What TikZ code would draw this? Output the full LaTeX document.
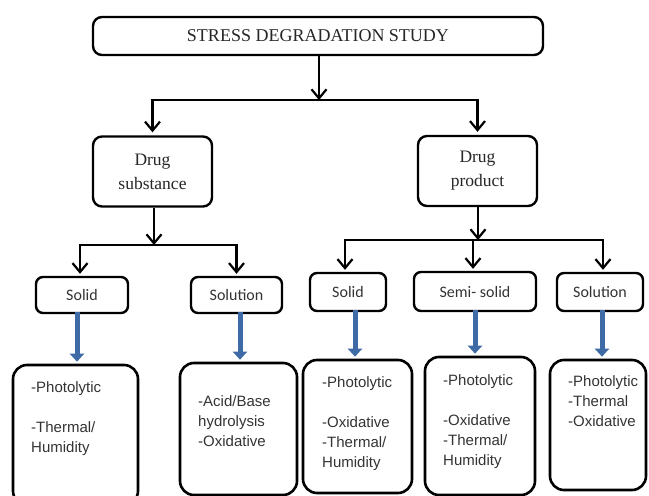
\documentclass[tikz,border=0pt]{standalone}
\usepackage{fontspec}
\setmainfont{Liberation Serif}
\newfontfamily\calib{Carlito}
\newfontfamily\arialf{Liberation Sans}
\usetikzlibrary{arrows.meta}
\definecolor{blueA}{RGB}{62,106,166}
\begin{document}
\begin{tikzpicture}[x=1pt,y=-1pt,
  box/.style={draw=black,line width=2.4pt,rounded corners=9pt,inner sep=0pt,align=center},
  serifbox/.style={box,font=\fontsize{17.5}{24}\selectfont,text=black!85},
  sansbox/.style={box,rounded corners=7pt,font=\calib\fontsize{16}{19}\selectfont,text=black!80},
  bigbox/.style={draw=black,line width=2.6pt,rounded corners=14pt,inner sep=0pt},
  txt/.style={font=\arialf\fontsize{15}{20}\selectfont,align=left,inner sep=0pt,anchor=north west,text=black!80},
  arr/.style={line width=2.2pt,-{Straight Barb[length=9pt,width=15pt]}},
  barr/.style={draw=blueA,line width=5pt,-{Triangle[length=8pt,width=14pt]}}]
\useasboundingbox (0,0) rectangle (649,496);

% top
\node[box,minimum width=450pt,minimum height=38pt,font=\fontsize{18}{22}\selectfont,text=black!85] (top) at (318,36) {STRESS DEGRADATION STUDY};

\node[serifbox,minimum width=119pt,minimum height=70pt] (ds) at (152.5,171.5) {Drug\\substance};
\node[serifbox,minimum width=119pt,minimum height=70pt] (dp) at (477.5,171) {Drug\\product};

\node[sansbox,minimum width=92pt,minimum height=36pt] (s1) at (82,295) {Solid};
\node[sansbox,minimum width=91pt,minimum height=36pt] (sol1) at (236.5,295) {Solution};
\node[sansbox,minimum width=76pt,minimum height=38pt] (s2) at (348,292) {Solid};
\node[sansbox,minimum width=122pt,minimum height=39pt] (semi) at (475,291.5) {Semi- solid};
\node[sansbox,minimum width=86pt,minimum height=38pt] (sol2) at (600,292) {Solution};

\node[bigbox,minimum width=125pt,minimum height=140pt] (b1) at (75.5,435) {};
\node[bigbox,minimum width=117pt,minimum height=132pt] (b2) at (238.5,429) {};
\node[bigbox,minimum width=109pt,minimum height=133pt] (b3) at (357.5,426.5) {};
\node[bigbox,minimum width=110pt,minimum height=138pt] (b4) at (480,426) {};
\node[bigbox,minimum width=96pt,minimum height=130pt] (b5) at (598,425) {};

\node[txt] (t1) at (31,381) {-Photolytic\\[20pt]-Thermal/\\Humidity};
\node[txt] (t2) at (198,395) {-Acid/Base\\hydrolysis\\-Oxidative};
\node[txt] (t3) at (322,376) {-Photolytic\\[20pt]-Oxidative\\-Thermal/\\Humidity};
\node[txt] (t4) at (443,374) {-Photolytic\\[20pt]-Oxidative\\-Thermal/\\Humidity};
\node[txt] (t5) at (568,375) {-Photolytic\\-Thermal\\-Oxidative};

% junctions
\coordinate (j0) at (319,100);
\coordinate (j1) at (154,245);
\coordinate (j2) at (478,240);

\draw[arr] (top.south -| j0) -- (j0);
\draw[arr,shorten >=3pt] (j0) -| (ds.north);
\draw[arr,shorten >=3pt] (j0) -| (dp.north);

\draw[arr] (ds.south -| j1) -- (j1);
\draw[arr,shorten >=2pt] (j1) -| ([xshift=-2pt]s1.north);
\draw[arr,shorten >=2pt] (j1) -| (sol1.north);

\draw[arr] (dp.south -| j2) -- (j2);
\draw[arr,shorten >=2pt] (j2) -| ([xshift=-3pt]s2.north);
\draw[arr,shorten >=2pt] (j2) -| ([xshift=-2pt]semi.north);
\draw[arr,shorten >=2pt] (j2) -| ([xshift=3pt]sol2.north);

% blue arrows
\draw[barr,shorten >=2pt] ([xshift=-5pt,yshift=2pt]s1.south) -- ([xshift=-5pt]s1.south |- b1.north);
\draw[barr,shorten >=2pt] ([xshift=3.5pt,yshift=2pt]sol1.south) -- ([xshift=3.5pt]sol1.south |- b2.north);
\draw[barr,shorten >=2pt] ([xshift=7pt,yshift=2pt]s2.south) -- ([xshift=7pt]s2.south |- b3.north);
\draw[barr,shorten >=2pt] ([yshift=2pt]semi.south) -- (semi.south |- b4.north);
\draw[barr,shorten >=2pt] ([xshift=2pt,yshift=2pt]sol2.south) -- ([xshift=2pt]sol2.south |- b5.north);
\end{tikzpicture}
\end{document}
